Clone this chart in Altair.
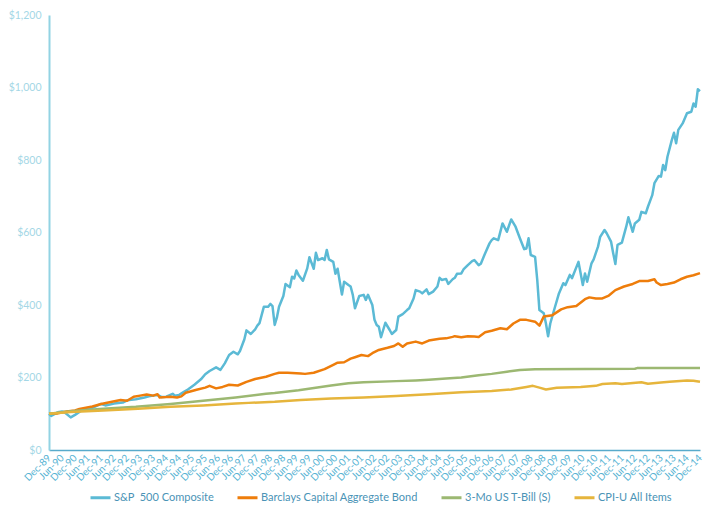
import altair as alt
import pandas as pd

# ---------------- data (month index: 0 = Dec-89, 300 = Dec-14) ----------------
series_names = ["S&P\u00a0 500 Composite", "Barclays Capital Aggregate Bond",
                "3-Mo US T-Bill (S)", "CPI-U All Items"]
series_colors = ["#5bbad5", "#ee7d0b", "#9cb872", "#e6b53c"]

sp_month = [0, 1, 4, 6, 7, 10, 12, 14, 16, 18, 20, 24, 26, 30, 34, 36, 40, 44, 46, 48,
            50, 52, 54, 57, 58, 60, 62, 64, 67, 70, 72, 74, 77, 79, 81, 83, 85, 87, 88,
            90, 91, 93, 95, 96, 97, 99, 101, 102, 103, 104, 105, 106, 108, 109, 111, 112,
            113, 114, 115, 117, 119, 120, 122, 123, 124, 126, 127, 128, 129, 131, 132,
            133, 134, 135, 136, 138, 139, 140, 141, 143, 145, 146, 147, 149, 150, 151,
            152, 153, 155, 157, 158, 160, 161, 163, 165, 166, 168, 169, 171, 172, 174,
            175, 177, 179, 180, 181, 183, 184, 186, 187, 188, 190, 191, 193, 195, 196,
            198, 199, 201, 203, 204, 205, 207, 209, 211, 213, 215, 216, 217, 219, 220,
            221, 222, 224, 225, 226, 228, 229, 230, 231, 233, 235, 237, 238, 240, 241,
            244, 246, 247, 248, 250, 251, 253, 254, 256, 257, 259, 260, 261, 262, 264,
            266, 267, 269, 270, 272, 273, 275, 276, 278, 279, 281, 282, 283, 284, 285,
            287, 288, 289, 290, 292, 294, 296, 297, 298, 299, 300]
sp_value = [100, 94, 104, 106, 105, 90, 97, 105, 113, 113, 116, 127, 123, 128, 131, 137,
            140, 145, 148, 150, 152, 146, 147, 155, 150, 152, 160, 167, 180, 195, 209,
            218, 228, 221, 239, 262, 271, 264, 273, 305, 330, 320, 333, 343, 350, 395,
            395, 403, 397, 345, 365, 395, 425, 458, 449, 478, 473, 495, 483, 467, 501,
            532, 500, 544, 524, 529, 524, 552, 526, 519, 486, 500, 464, 429, 464, 455,
            451, 428, 391, 425, 428, 414, 428, 400, 359, 345, 340, 311, 351, 331, 320,
            331, 368, 375, 386, 391, 418, 441, 437, 432, 443, 430, 437, 451, 475, 469,
            472, 458, 471, 475, 486, 487, 498, 510, 521, 524, 510, 514, 543, 570, 579,
            584, 579, 625, 602, 636, 616, 600, 584, 554, 556, 584, 538, 533, 469, 386,
            377, 349, 314, 349, 391, 432, 460, 455, 483, 474, 519, 455, 487, 464, 515,
            526, 561, 588, 607, 598, 575, 543, 513, 566, 572, 616, 642, 602, 625, 635,
            657, 653, 671, 703, 736, 756, 754, 786, 772, 809, 855, 875, 846, 883, 901,
            929, 933, 956, 947, 995, 990]

bond_month = [0, 4, 8, 12, 14, 20, 24, 29, 33, 36, 39, 42, 45, 48, 50, 51, 54, 56, 59,
              61, 63, 68, 72, 74, 77, 80, 83, 87, 91, 95, 100, 104, 106, 110, 116, 118,
              122, 127, 131, 133, 136, 139, 141, 144, 147, 149, 152, 156, 159, 161, 163,
              165, 169, 172, 175, 180, 183, 186, 187, 190, 193, 196, 198, 201, 204, 208,
              211, 214, 217, 220, 224, 226, 228, 232, 236, 239, 243, 247, 249, 252, 255,
              258, 261, 265, 269, 272, 276, 279, 280, 282, 285, 288, 291, 294, 297, 300]
bond_value = [100, 101, 106, 109, 113, 120, 127, 133, 138, 136, 147, 150, 153, 150, 154,
              145, 146, 147, 145, 148, 158, 166, 172, 177, 170, 174, 180, 178, 188, 196,
              202, 210, 213, 213, 211, 210, 213, 223, 235, 241, 242, 252, 256, 262, 259,
              267, 276, 282, 287, 294, 285, 294, 299, 294, 302, 307, 308, 312, 314, 311,
              314, 313, 312, 325, 329, 336, 333, 349, 359, 359, 354, 343, 368, 372, 388,
              394, 397, 416, 421, 418, 418, 426, 441, 451, 458, 466, 466, 471, 462, 455,
              458, 462, 471, 478, 482, 488]

tbill_month = [0, 10, 25, 40, 56, 71, 86, 100, 104, 115, 130, 138, 145, 160, 169, 175,
               183, 190, 198, 204, 211, 217, 224, 270, 271, 300]
tbill_value = [100, 107, 114, 119, 127, 136, 145, 155, 157, 165, 178, 184, 187, 190, 192,
               194, 197, 200, 206, 210, 216, 221, 223, 224, 226, 226]

cpi_month = [0, 10, 25, 41, 56, 71, 86, 92, 104, 116, 130, 145, 160, 175, 190, 204, 208,
             213, 220, 223, 226, 229, 234, 245, 252, 255, 261, 264, 273, 276, 282, 286,
             294, 297, 300]
cpi_value = [100, 105, 109, 114, 119, 123, 128, 130, 133, 138, 142, 145, 149, 154, 159,
             163, 165, 167, 174, 177, 172, 167, 172, 174, 177, 182, 184, 182, 187, 183,
             186, 188, 192, 191, 188]

x_tick_labels = ["Dec-89", "Jun-90", "Dec-90", "Jun-91", "Dec-91", "Jun-92", "Dec-92",
                 "Jun-93", "Dec-93", "Jun-94", "Dec-94", "Jun-95", "Dec-95", "Jun-96",
                 "Dec-96", "Jun-97", "Dec-97", "Jun-98", "Dec-98", "Jun-99", "Dec-99",
                 "Jun-00", "Dec-00", "Jun-01", "Dec-01", "Jun-02", "Dec-02", "Jun-03",
                 "Dec-03", "Jun-04", "Dec-04", "Jun-05", "Dec-05", "Jun-06", "Dec-06",
                 "Jun-07", "Dec-07", "Jun-08", "Dec-08", "Jun-09", "Dec-09", "Jun-10",
                 "Dec-10", "Jun-11", "Dec-11", "Jun-12", "Dec-12", "Jun-13", "Dec-13",
                 "Jun-14", "Dec-14"]
y_ticks = [0, 200, 400, 600, 800, 1000, 1200]

# ---------------- build table ----------------
frames = []
for name, m, v in zip(series_names,
                      [sp_month, bond_month, tbill_month, cpi_month],
                      [sp_value, bond_value, tbill_value, cpi_value]):
    frames.append(pd.DataFrame({"month": m, "value": v, "series": name}))
df = pd.concat(frames, ignore_index=True)

label_array = "[" + ",".join("'" + s + "'" for s in x_tick_labels) + "]"
FONT = "Lato"

chart = alt.Chart(df).mark_line(strokeWidth=2.5, strokeJoin="round").encode(
    x=alt.X("month:Q",
            scale=alt.Scale(domain=[0, 300], nice=False, zero=False),
            axis=alt.Axis(values=list(range(0, 301, 6)),
                          labelExpr=label_array + "[round(datum.value / 6)]",
                          labelAngle=-45, labelAlign="right", labelBaseline="middle",
                          labelOverlap=False, labelBound=False,
                          labelFlush=False, labelFontSize=10, labelColor="#56b3d3",
                          labelFont=FONT, labelPadding=6, ticks=False, grid=False,
                          domainColor="#58aacb", domainWidth=1.5, title=None)),
    y=alt.Y("value:Q",
            scale=alt.Scale(domain=[0, 1200], nice=False),
            axis=alt.Axis(values=y_ticks, format="$,.0f", labelColor="#a4d7e6",
                          labelFont=FONT, labelFontSize=10.5, labelPadding=8,
                          ticks=False, grid=False, domainColor="#92d3e3",
                          domainWidth=2, title=None)),
    color=alt.Color("series:N",
                    scale=alt.Scale(domain=series_names, range=series_colors),
                    sort=series_names,
                    legend=alt.Legend(orient="none", legendX=40, legendY=471,
                                      direction="horizontal", title=None,
                                      symbolType="stroke", symbolStrokeWidth=3,
                                      symbolSize=400, labelFont=FONT,
                                      labelFontSize=11, labelColor="#4a93b6",
                                      labelLimit=400, columnPadding=17,
                                      labelOffset=2)),
    detail="series:N",
    order=alt.Order("month:Q"),
).properties(
    width=651, height=435,
    autosize=alt.AutoSizeParams(type="none"),
    padding={"left": 41, "top": 7, "right": 5, "bottom": 54},
).configure_view(stroke=None)

chart.save("out.html", embed_options={"renderer": "svg", "actions": False})
